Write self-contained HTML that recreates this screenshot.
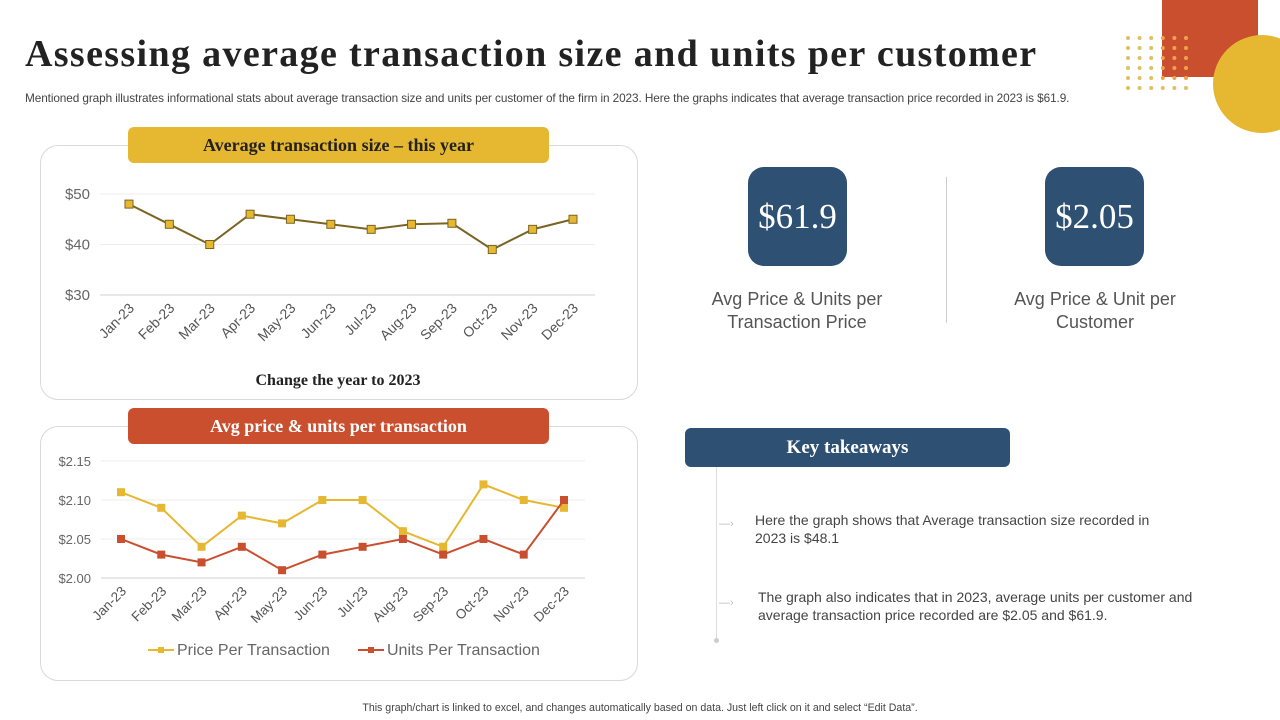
<!DOCTYPE html>
<html><head><meta charset="utf-8">
<style>
body{margin:0;width:1280px;height:720px;background:#fff;position:relative;overflow:hidden;font-family:"Liberation Sans",sans-serif;}
.abs{position:absolute;}
.serif{font-family:"Liberation Serif",serif;}
.panel{position:absolute;border:1px solid #d9d9d9;border-radius:18px;background:#fff;}
.banner{position:absolute;border-radius:6px;color:#fff;text-align:center;font-family:"Liberation Serif",serif;font-weight:bold;}
.stat{position:absolute;width:99px;height:99px;border-radius:16px;background:#2e5073;color:#fff;font-family:"Liberation Serif",serif;font-size:35px;text-align:center;line-height:99px;}
.lbl{position:absolute;text-align:center;color:#555;font-size:18px;line-height:23px;}
</style></head><body>
<div class="abs" style="left:1162px;top:0;width:96px;height:77px;background:#c94f2f;"></div>
<svg class="abs" style="left:1120px;top:30px" width="80" height="70" id="dots"></svg>
<div class="abs" style="left:1213px;top:35px;width:98px;height:98px;border-radius:50%;background:#e6b730;"></div>

<div class="abs serif" style="left:25px;top:32px;font-size:38px;font-weight:bold;color:#222;letter-spacing:1.35px;white-space:nowrap;">Assessing average transaction size and units per customer</div>
<div class="abs" style="left:25px;top:91px;font-size:11.8px;color:#444;white-space:nowrap;letter-spacing:-0.1px;">Mentioned graph illustrates informational stats about average transaction size and units per customer of the firm in 2023. Here the graphs indicates that average transaction price recorded in 2023 is $61.9.</div>

<div class="panel" style="left:40px;top:145px;width:596px;height:253px;"></div>
<div class="banner" style="left:128px;top:127px;width:421px;height:36px;line-height:36px;background:#e6b730;color:#222;font-size:18px;">Average transaction size – this year</div>
<svg class="abs" style="left:0;top:0" width="640" height="400" id="c1"></svg>
<div class="abs serif" style="left:40px;width:596px;text-align:center;top:372px;font-size:16px;font-weight:bold;color:#222;">Change the year to 2023</div>

<div class="panel" style="left:40px;top:426px;width:596px;height:253px;"></div>
<div class="banner" style="left:128px;top:408px;width:421px;height:36px;line-height:36px;background:#c94f2f;font-size:18px;">Avg price &amp; units per transaction</div>
<svg class="abs" style="left:0;top:0" width="640" height="690" id="c2"></svg>

<div class="stat" style="left:748px;top:167px;">$61.9</div>
<div class="lbl" style="left:687px;width:220px;top:288px;">Avg Price &amp; Units per Transaction Price</div>
<div class="abs" style="left:946px;top:177px;width:1px;height:146px;background:#ccc;"></div>
<div class="stat" style="left:1045px;top:167px;">$2.05</div>
<div class="lbl" style="left:1005px;width:180px;top:288px;">Avg Price &amp; Unit per Customer</div>

<div class="banner" style="left:685px;top:428px;width:325px;height:39px;line-height:39px;background:#2e5073;font-size:19px;">Key takeaways</div>
<div class="abs" style="left:716px;top:467px;width:1px;height:173px;background:#ddd;"></div>
<div class="abs" style="left:714px;top:638px;width:5px;height:5px;border-radius:50%;background:#ccc;"></div>
<div class="abs" style="left:719px;top:518px;color:#bbb;font-size:11px;">—›</div>
<div class="abs" style="left:719px;top:597px;color:#bbb;font-size:11px;">—›</div>
<div class="abs" style="left:755px;top:511px;width:425px;font-size:14px;line-height:18px;color:#444;">Here the graph shows that Average transaction size recorded in 2023 is $48.1</div>
<div class="abs" style="left:758px;top:588px;width:470px;font-size:14px;line-height:18px;color:#444;">The graph also indicates that in 2023, average units per customer and average transaction price recorded are $2.05 and $61.9.</div>

<div class="abs" style="left:0;width:1280px;text-align:center;top:702px;font-size:10.6px;color:#444;">This graph/chart is linked to excel, and changes automatically based on data. Just left click on it and select “Edit Data”.</div>

<script>
const months=["Jan-23","Feb-23","Mar-23","Apr-23","May-23","Jun-23","Jul-23","Aug-23","Sep-23","Oct-23","Nov-23","Dec-23"];
const avgSize=[48,44,40,46,45,44,43,44,44.2,39,43,45];
const sizeTicks=[30,40,50];
const priceSeries=[2.11,2.09,2.04,2.08,2.07,2.10,2.10,2.06,2.04,2.12,2.10,2.09];
const unitSeries=[2.05,2.03,2.02,2.04,2.01,2.03,2.04,2.05,2.03,2.05,2.03,2.10];
const priceTicks=[2.00,2.05,2.10,2.15];
const NS="http://www.w3.org/2000/svg";
function mk(p,t,a){const e=document.createElementNS(NS,t);for(const k in a)e.setAttribute(k,a[k]);p.appendChild(e);return e;}

const dots=document.getElementById('dots');
for(let r=0;r<6;r++)for(let c=0;c<6;c++){
  const d=mk(dots,'circle',{cx:8+c*11.6,cy:8+r*10,r:2,fill:c>=3&&r<5?'#f0a24a':'#e0c060'});
  
  
}

function chart(svg,cfg){
  const x=i=>cfg.x0+i*(cfg.x1-cfg.x0)/(months.length-1);
  const y=v=>cfg.yb+(v-cfg.vmin)*(cfg.yt-cfg.yb)/(cfg.vmax-cfg.vmin);
  cfg.ticks.forEach(t=>{
    const g=mk(svg,'line',{x1:cfg.gx0,x2:cfg.gx1,y1:y(t),y2:y(t),stroke:t===cfg.vmin?'#d0d0d0':'#eee'});
    
    
    const l=mk(svg,'text',{x:cfg.gx0-10,y:y(t)+5,'text-anchor':'end','font-size':cfg.fs,fill:'#666','font-family':'Liberation Sans'});
    l.textContent=cfg.fmt(t);
    
    
  });
  months.forEach((m,i)=>{
    const l=mk(svg,'text',{x:x(i)+6,y:cfg.yb+14,'text-anchor':'end','font-size':cfg.xfs,fill:'#555','font-family':'Liberation Sans',transform:`rotate(-45 ${x(i)+6} ${cfg.yb+14})`});
    l.textContent=m;
    
    
  });
  cfg.series.forEach(s=>{
    const pl=mk(svg,'polyline',{points:s.data.map((v,i)=>x(i)+','+y(v)).join(' '),fill:'none',stroke:s.color,'stroke-width':2});
    
    
    s.data.forEach((v,i)=>{
      const r=mk(svg,'rect',{x:x(i)-s.ms/2,y:y(v)-s.ms/2,width:s.ms,height:s.ms,fill:s.mfill,stroke:s.mstroke,'stroke-width':1});
      
      
    });
  });
}
chart(document.getElementById('c1'),{x0:129,x1:573,gx0:100,gx1:595,yb:295,yt:194,vmin:30,vmax:50,ticks:sizeTicks,fs:15,xfs:14,fmt:t=>'$'+t,
  series:[{name:'avg-size',data:avgSize,color:'#7a6424',mfill:'#e6b730',mstroke:'#7a6424',ms:8}]});
chart(document.getElementById('c2'),{x0:121,x1:564,gx0:101,gx1:585,yb:578,yt:461,vmin:2.00,vmax:2.15,ticks:priceTicks,fs:13,xfs:13.5,fmt:t=>'$'+t.toFixed(2),
  series:[{name:'price-per-transaction',data:priceSeries,color:'#e6b730',mfill:'#e6b730',mstroke:'#e6b730',ms:7},
          {name:'units-per-transaction',data:unitSeries,color:'#c94f2f',mfill:'#c94f2f',mstroke:'#c94f2f',ms:7}]});
const c2=document.getElementById('c2');
[[148,'#e6b730','Price Per Transaction'],[358,'#c94f2f','Units Per Transaction']].forEach(([lx,c,t])=>{
  const g=mk(c2,'g',{});
  
  
  mk(g,'line',{x1:lx,x2:lx+26,y1:650,y2:650,stroke:c,'stroke-width':2});
  mk(g,'rect',{x:lx+10,y:647,width:6,height:6,fill:c});
  const tx=mk(g,'text',{x:lx+29,y:655,'font-size':16,fill:'#666','font-family':'Liberation Sans'});
  tx.textContent=t;
});
</script>
</body></html>
